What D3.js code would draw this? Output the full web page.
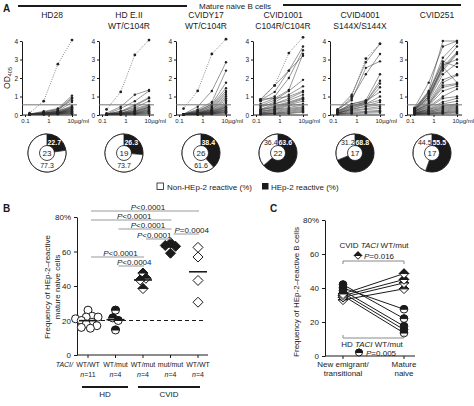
<!DOCTYPE html>
<html>
<head>
<meta charset="utf-8">
<script src="https://cdn.jsdelivr.net/npm/d3@7"></script>
<style>
  body { margin: 0; background: #fff; }
  svg { font-family: "Liberation Sans", Arial, sans-serif; }
</style>
</head>
<body>
<svg id="chart" width="474" height="406"></svg>
<script>
// ---------- data: panel A ----------
const concentrations = [0.156, 0.625, 2.5, 10];
const donorNames = ["HD28", "HD E.II", "CVIDY17", "CVID1001", "CVID4001", "CVID251"];
const donorGenotypes = ["", "WT/C104R", "WT/C104R", "C104R/C104R", "S144X/S144X", ""];
const controlCurves = [
  [0.1, 0.75, 2.75, 4.05],
  [0.3, 1.25, 3.25, 4.05],
  [0.35, 1.3, 3.3, 4.1],
  [0.8, 1.6, 3.35, 4.2],
  [0.2, 1.0, 3.05, 3.85],
  null
];
const curvesHD28 = [
  [0.05,0.2,0.35,1.05],[0.05,0.15,0.3,0.95],[0.05,0.1,0.25,0.9],[0.05,0.15,0.3,0.8],
  [0.05,0.1,0.2,0.7],[0.05,0.1,0.2,0.5],[0.05,0.1,0.2,0.45],[0.05,0.1,0.15,0.42],
  [0.05,0.08,0.15,0.4],[0.05,0.08,0.12,0.38],[0.05,0.08,0.12,0.35],[0.05,0.08,0.1,0.32],
  [0.05,0.07,0.1,0.3],[0.04,0.06,0.1,0.28],[0.04,0.06,0.1,0.25],[0.04,0.06,0.09,0.22],
  [0.04,0.05,0.08,0.2],[0.04,0.05,0.08,0.18],[0.04,0.05,0.07,0.15],[0.04,0.05,0.07,0.12],
  [0.04,0.05,0.06,0.1],[0.03,0.04,0.05,0.08],[0.03,0.04,0.05,0.06]
];
const curvesHDEII = [
  [0.1,0.45,1.1,1.35],[0.05,0.35,0.75,1.3],[0.05,0.2,0.55,0.95],[0.05,0.15,0.5,0.9],
  [0.05,0.2,0.4,0.75],[0.05,0.1,0.35,0.55],[0.05,0.1,0.3,0.5],[0.05,0.1,0.25,0.45],
  [0.04,0.08,0.2,0.42],[0.04,0.08,0.2,0.4],[0.04,0.07,0.18,0.35],[0.04,0.07,0.15,0.3],
  [0.04,0.06,0.12,0.28],[0.03,0.06,0.1,0.25],[0.03,0.05,0.1,0.2],[0.03,0.05,0.08,0.18],
  [0.03,0.04,0.06,0.15],[0.03,0.04,0.05,0.1],[0.02,0.03,0.05,0.08]
];
const curvesCVIDY17 = [
  [0.05,0.45,1.3,2.85],[0.05,0.3,0.7,2.4],[0.05,0.2,0.6,1.75],[0.05,0.25,0.55,1.45],
  [0.05,0.15,0.5,1.3],[0.05,0.2,0.45,1.2],[0.05,0.1,0.4,1.1],[0.05,0.15,0.35,1.0],
  [0.05,0.1,0.3,0.9],[0.05,0.1,0.3,0.8],[0.05,0.1,0.25,0.7],[0.05,0.1,0.25,0.6],
  [0.04,0.08,0.2,0.55],[0.04,0.08,0.2,0.5],[0.04,0.08,0.18,0.45],[0.04,0.07,0.15,0.42],
  [0.04,0.07,0.15,0.4],[0.04,0.06,0.12,0.35],[0.04,0.06,0.12,0.3],[0.03,0.05,0.1,0.28],
  [0.03,0.05,0.1,0.25],[0.03,0.05,0.08,0.2],[0.03,0.04,0.08,0.18],[0.03,0.04,0.06,0.15],
  [0.03,0.04,0.06,0.12],[0.02,0.03,0.05,0.08]
];
const curvesCVID1001 = [
  [0.8,1.25,2.4,3.7],[0.75,1.0,2.0,3.5],[0.85,1.6,2.4,3.2],[0.6,0.9,1.35,3.3],
  [0.5,0.8,1.3,1.9],[0.4,0.7,1.1,1.55],[0.85,0.9,1.0,1.3],[0.3,0.6,0.9,1.25],
  [0.5,0.6,0.8,1.1],[0.3,0.5,0.7,0.95],[0.25,0.45,0.65,0.9],[0.3,0.4,0.6,0.85],
  [0.2,0.35,0.55,0.75],[0.2,0.3,0.5,0.6],[0.15,0.3,0.4,0.55],[0.1,0.25,0.35,0.45],
  [0.1,0.2,0.3,0.4],[0.1,0.15,0.25,0.35],[0.05,0.1,0.2,0.3],[0.05,0.1,0.15,0.25],
  [0.05,0.08,0.1,0.2],[0.04,0.06,0.08,0.15]
];
const curvesCVID4001 = [
  [0.3,1.1,2.85,3.85],[0.25,0.9,2.2,3.3],[0.3,0.8,2.55,2.9],[0.2,0.6,0.8,2.2],
  [0.2,0.5,0.7,1.85],[0.15,0.5,0.7,1.7],[0.15,0.45,0.65,1.5],[0.2,0.6,0.75,1.25],
  [0.1,0.4,0.6,1.0],[0.1,0.35,0.6,0.8],[0.1,0.3,0.5,0.7],[0.1,0.3,0.45,0.55],
  [0.08,0.25,0.35,0.45],[0.05,0.2,0.3,0.35],[0.05,0.15,0.2,0.25],[0.05,0.1,0.15,0.2],
  [0.05,0.08,0.1,0.12]
];
const curvesCVID251 = [
  [0.4,1.75,3.7,4.0],[0.35,1.3,4.0,4.0],[0.3,1.2,3.1,3.9],[0.35,1.25,2.8,3.7],
  [0.3,1.1,2.6,3.4],[0.3,1.0,2.5,3.35],[0.25,0.9,2.4,3.3],[0.25,1.0,2.7,3.0],
  [0.2,0.8,2.2,2.8],[0.3,1.15,2.9,2.6],[0.2,0.7,1.9,2.2],[0.2,0.6,1.75,2.15],
  [0.25,0.9,2.6,1.75],[0.2,0.6,1.6,1.7],[0.2,0.55,1.5,1.65],[0.15,0.5,1.3,1.55],
  [0.15,0.45,1.0,1.4],[0.15,0.4,0.9,1.0],[0.1,0.35,0.7,0.9],[0.1,0.3,0.6,0.75],
  [0.1,0.3,0.5,0.6],[0.1,0.25,0.45,0.55],[0.1,0.2,0.4,0.5],[0.08,0.2,0.35,0.45],
  [0.08,0.15,0.3,0.4],[0.05,0.15,0.25,0.35],[0.05,0.1,0.2,0.3],[0.05,0.1,0.15,0.25],
  [0.05,0.08,0.12,0.2],[0.04,0.06,0.1,0.15],[0.04,0.05,0.08,0.1]
];
const donorCurves = [curvesHD28, curvesHDEII, curvesCVIDY17, curvesCVID1001, curvesCVID4001, curvesCVID251];
const cutoffOD = 0.55;
const hep2Reactive = [22.7, 26.3, 38.4, 63.6, 68.8, 55.5];
const nonReactive = [77.3, 73.7, 61.6, 36.4, 31.2, 44.5];
const clonesTested = [23, 19, 26, 22, 17, 17];

// ---------- data: panel B ----------
const groupGenotypes = ["WT/WT", "WT/mut", "WT/mut", "mut/mut", "WT/WT"];
const groupN = [11, 4, 4, 4, 4];
const groupMarkers = ["openCircle", "halfCircle", "halfDiamond", "fullDiamond", "openDiamond"];
const hdWTWT = [26, 22.5, 22, 22, 21, 20, 19, 18, 17, 16, 15.5];
const hdWTmut = [26, 21.5, 20, 14.5];
const cvidWTmut = [47.5, 44.5, 43.5, 38.5];
const cvidMutMut = [65, 63.5, 63, 59];
const cvidWTWT = [62.4, 56.8, 43.2, 30.6];
const groupValues = [hdWTWT, hdWTmut, cvidWTmut, cvidMutMut, cvidWTWT];
const healthyLevel = 20;
const sigPairs = [[0, 4], [0, 3], [1, 3], [2, 3], [3, 4], [0, 2], [1, 2]];
const sigLabels = ["<0.0001", "<0.0001", "<0.0001", "<0.0001", "=0.0004", "<0.0001", "<0.0004"];

// ---------- data: panel C ----------
const stages = ["New emigrant/\ntransitional", "Mature\nnaive"];
const hdTransitional = [42, 40, 38.5, 37, 35.5];
const hdMature = [22, 27.5, 17.5, 15.5, 13.5];
const cvidTransitional = [33, 34.5, 35.5, 36.5];
const cvidMature = [39.5, 43, 45, 48.5];

const svg = d3.select("#chart");
const ink = "#1a1a1a";
const fs = 8;

const styleAxis = (g, size) => {
  g.attr("font-family", null).attr("font-size", size);
  g.selectAll("path.domain, line").attr("stroke", ink);
  g.selectAll("text").attr("fill", ink);
};

const markerPath = (type, r) => {
  if (type.endsWith("Circle")) {
    return { full: `M${-r},0A${r},${r} 0 1 1 ${r},0A${r},${r} 0 1 1 ${-r},0Z`,
             top: `M${-r},0A${r},${r} 0 0 1 ${r},0Z` };
  }
  const d = r * 1.25;
  return { full: `M0,${-d}L${d},0L0,${d}L${-d},0Z`, top: `M${-d},0L0,${-d}L${d},0Z` };
};

const drawMarker = (g, type, x, y, r) => {
  const p = markerPath(type, r);
  const m = g.append("g").attr("transform", `translate(${x},${y})`);
  m.append("path").attr("d", p.full)
    .attr("fill", type.startsWith("full") ? ink : "#fff")
    .attr("stroke", ink).attr("stroke-width", 1);
  if (type.startsWith("half")) {
    m.append("path").attr("d", p.top).attr("fill", ink).attr("stroke", ink).attr("stroke-width", 1);
  }
};

// ---------- panel A ----------
svg.append("text").attr("x", 3).attr("y", 12).attr("font-size", 10).attr("font-weight", "bold")
  .attr("fill", ink).text("A");
svg.append("line").attr("x1", 18).attr("x2", 187).attr("y1", 6).attr("y2", 6)
  .attr("stroke", ink).attr("stroke-width", 2);
svg.append("line").attr("x1", 283).attr("x2", 461).attr("y1", 5).attr("y2", 5)
  .attr("stroke", ink).attr("stroke-width", 2);
svg.append("text").attr("x", 235).attr("y", 9).attr("text-anchor", "middle").attr("font-size", fs)
  .attr("fill", ink).text("Mature naive B cells");

const odLabel = svg.append("text").attr("transform", "translate(10,78) rotate(-90)")
  .attr("text-anchor", "middle").attr("font-size", 8.5).attr("fill", ink);
odLabel.append("tspan").text("OD");
odLabel.append("tspan").attr("font-size", 5.5).attr("dy", 2).text("405");

const yA = d3.scaleLinear().domain([0, 4]).range([115, 41]);
const pie = d3.pie().sort(null).value((d) => d);

donorNames.forEach((name, i) => {
  const x0 = 22 + i * 77;
  const xA = d3.scaleLog().domain([0.1, 10]).range([x0 + 3, x0 + 50]);
  const g = svg.append("g");

  g.append("text").attr("x", x0 + 30).attr("y", 18).attr("text-anchor", "middle")
    .attr("font-size", 8.5).attr("fill", ink).text(name);
  g.append("text").attr("x", x0 + 30).attr("y", 29).attr("text-anchor", "middle")
    .attr("font-size", 8.5).attr("fill", ink).text(donorGenotypes[i]);

  const yAxis = g.append("g").attr("transform", `translate(${x0},0)`)
    .call(d3.axisLeft(yA).ticks(4).tickSize(2).tickSizeOuter(0).tickPadding(2));
  styleAxis(yAxis, 6.5);

  const xAxis = g.append("g").attr("transform", `translate(0,${yA(0)})`)
    .call(d3.axisBottom(xA).tickValues([0.1, 1, 10]).tickSize(2).tickPadding(2)
      .tickFormat((d) => (d === 10 ? "10µg/ml" : d === 1 ? "1" : "0.1")));
  xAxis.select(".domain").remove();
  styleAxis(xAxis, 6);
  xAxis.selectAll(".tick text").filter((d) => d === 10).attr("text-anchor", "start").attr("dx", -5);
  g.append("line").attr("x1", x0).attr("x2", x0 + 55).attr("y1", yA(0)).attr("y2", yA(0))
    .attr("stroke", ink);

  const line = d3.line().x((d, k) => xA(concentrations[k])).y((d) => yA(d));

  g.selectAll(".curve").data(donorCurves[i]).enter().append("path")
    .attr("d", line).attr("fill", "none").attr("stroke", "#333").attr("stroke-width", 0.5);
  donorCurves[i].forEach((c) => {
    g.selectAll(null).data(c).enter().append("circle")
      .attr("cx", (d, k) => xA(concentrations[k])).attr("cy", (d) => yA(d))
      .attr("r", 1.2).attr("fill", "#222");
  });

  if (controlCurves[i]) {
    g.append("path").attr("d", line(controlCurves[i])).attr("fill", "none")
      .attr("stroke", "#555").attr("stroke-width", 0.7).attr("stroke-dasharray", "1,1.3");
    g.selectAll(null).data(controlCurves[i]).enter().append("circle")
      .attr("cx", (d, k) => xA(concentrations[k])).attr("cy", (d) => yA(d))
      .attr("r", 1.4).attr("fill", "#222");
  }

  g.append("line").attr("x1", x0).attr("x2", x0 + 55).attr("y1", yA(cutoffOD)).attr("y2", yA(cutoffOD))
    .attr("stroke", "#777").attr("stroke-width", 1);

  // donut
  const cx = x0 + 25, cy = 153, rOut = 19, rIn = 7.5;
  const dg = svg.append("g").attr("transform", `translate(${cx},${cy})`);
  dg.append("circle").attr("r", rOut).attr("fill", "#fff").attr("stroke", ink).attr("stroke-width", 1);
  const arcs = pie([hep2Reactive[i], nonReactive[i]]);
  dg.append("path").attr("d", d3.arc().innerRadius(0).outerRadius(rOut)(arcs[0])).attr("fill", ink);
  dg.append("path").attr("d", d3.arc().innerRadius(0).outerRadius(rOut)(arcs[1]))
    .attr("fill", "#fff").attr("stroke", ink).attr("stroke-width", 0.8);
  dg.append("circle").attr("r", rIn).attr("fill", "#fff").attr("stroke", ink).attr("stroke-width", 0.8);
  dg.append("text").attr("y", 2.8).attr("text-anchor", "middle").attr("font-size", 8)
    .attr("fill", ink).text(clonesTested[i]);

  const blackAng = Math.min((arcs[0].startAngle + arcs[0].endAngle) / 2, 0.62);
  const whiteAng = nonReactive[i] > 50 ? Math.PI : -0.62;
  const rl = 12.5;
  dg.append("text").attr("x", rl * Math.sin(blackAng)).attr("y", -rl * Math.cos(blackAng) + 2.4)
    .attr("text-anchor", "middle").attr("font-size", 7).attr("font-weight", "bold")
    .attr("fill", "#fff").text(hep2Reactive[i].toFixed(1));
  dg.append("text").attr("x", rl * Math.sin(whiteAng)).attr("y", -rl * Math.cos(whiteAng) + 2.4)
    .attr("text-anchor", "middle").attr("font-size", 7).attr("fill", ink)
    .text(nonReactive[i].toFixed(1));
});

// legend
svg.append("rect").attr("x", 157).attr("y", 183).attr("width", 6.5).attr("height", 6.5)
  .attr("fill", "#fff").attr("stroke", ink).attr("stroke-width", 0.8);
svg.append("text").attr("x", 167).attr("y", 189.5).attr("font-size", fs).attr("fill", ink)
  .text("Non-HEp-2 reactive (%)");
svg.append("rect").attr("x", 262).attr("y", 183).attr("width", 6.5).attr("height", 6.5).attr("fill", ink);
svg.append("text").attr("x", 271).attr("y", 189.5).attr("font-size", fs).attr("fill", ink)
  .text("HEp-2 reactive (%)");

// ---------- panel B ----------
svg.append("text").attr("x", 3).attr("y", 212).attr("font-size", 10).attr("font-weight", "bold")
  .attr("fill", ink).text("B");

const yB = d3.scaleLinear().domain([0, 80]).range([355, 217]);
const xB = d3.scalePoint().domain(d3.range(groupGenotypes.length)).range([88, 198]);
const gB = svg.append("g");

const yAxisB = gB.append("g").attr("transform", "translate(77,0)")
  .call(d3.axisLeft(yB).tickValues([0, 20, 40, 60, 80]).tickSize(3).tickSizeOuter(0)
    .tickFormat((d) => (d === 80 ? "80%" : d)));
styleAxis(yAxisB, fs);
gB.append("line").attr("x1", 77).attr("x2", 208).attr("y1", yB(0)).attr("y2", yB(0)).attr("stroke", ink);
groupGenotypes.forEach((gt, i) => {
  gB.append("line").attr("x1", xB(i)).attr("x2", xB(i)).attr("y1", yB(0)).attr("y2", yB(0) + 3)
    .attr("stroke", ink);
  gB.append("text").attr("x", xB(i)).attr("y", 367).attr("text-anchor", "middle")
    .attr("font-size", 7).attr("fill", ink).text(gt);
  const nt = gB.append("text").attr("x", xB(i)).attr("y", 376.5).attr("text-anchor", "middle")
    .attr("font-size", 7).attr("fill", ink);
  nt.append("tspan").attr("font-style", "italic").text("n");
  nt.append("tspan").text("=" + groupN[i]);
});
gB.append("text").attr("x", 73).attr("y", 367).attr("text-anchor", "end").attr("font-size", 7)
  .attr("font-style", "italic").attr("fill", ink).text("TACI/");

gB.append("line").attr("x1", 82).attr("x2", 128).attr("y1", 387).attr("y2", 387)
  .attr("stroke", ink).attr("stroke-width", 2);
gB.append("text").attr("x", 105).attr("y", 397).attr("text-anchor", "middle").attr("font-size", fs)
  .attr("fill", ink).text("HD");
gB.append("line").attr("x1", 138).attr("x2", 200).attr("y1", 387).attr("y2", 387)
  .attr("stroke", ink).attr("stroke-width", 2);
gB.append("text").attr("x", 169).attr("y", 397).attr("text-anchor", "middle").attr("font-size", fs)
  .attr("fill", ink).text("CVID");

const yLabB = gB.append("text").attr("transform", "translate(50,287) rotate(-90)")
  .attr("text-anchor", "middle").attr("font-size", fs).attr("fill", ink);
yLabB.append("tspan").attr("x", 0).text("Frequency of HEp-2–reactive");
yLabB.append("tspan").attr("x", 0).attr("dy", 9.5).text("mature naive cells");

gB.append("line").attr("x1", 80).attr("x2", 205).attr("y1", yB(healthyLevel)).attr("y2", yB(healthyLevel))
  .attr("stroke", ink).attr("stroke-width", 1).attr("stroke-dasharray", "4,3");

// beeswarm positions
const nodes = [];
groupValues.forEach((vals, gi) => vals.forEach((v) => nodes.push({ g: gi, v, x: xB(gi), fy: yB(v) })));
const sim = d3.forceSimulation(nodes)
  .force("x", d3.forceX((d) => xB(d.g)).strength(0.3))
  .force("collide", d3.forceCollide(3))
  .stop();
for (let i = 0; i < 300; i++) sim.tick();

nodes.forEach((d) => drawMarker(gB, groupMarkers[d.g], d.x, d.fy, 4));

groupValues.forEach((vals, gi) => {
  const m = d3.mean(vals);
  gB.append("line").attr("x1", xB(gi) - 9).attr("x2", xB(gi) + 9).attr("y1", yB(m)).attr("y2", yB(m))
    .attr("stroke", ink).attr("stroke-width", 1.6);
});

const bracketY = [211, 220, 229, 239, 234, 257, 266];
const bracketAnchor = ["middle", "middle", "middle", "end", "start", "middle", "middle"];
sigPairs.forEach(([a, b], k) => {
  const x1 = xB(a) + 3, x2 = xB(b) + 1;
  gB.append("line").attr("x1", x1).attr("x2", x2).attr("y1", bracketY[k]).attr("y2", bracketY[k])
    .attr("stroke", "#999").attr("stroke-width", 1);
  const anchor = bracketAnchor[k];
  const tx = anchor === "start" ? x1 + 1 : anchor === "end" ? x2 : (x1 + x2) / 2 + 3;
  const t = gB.append("text").attr("x", tx).attr("y", bracketY[k] - 1.5)
    .attr("text-anchor", anchor).attr("font-size", fs).attr("fill", ink);
  t.append("tspan").attr("font-style", "italic").text("P");
  t.append("tspan").text(sigLabels[k]);
});

// ---------- panel C ----------
svg.append("text").attr("x", 270).attr("y", 212).attr("font-size", 10).attr("font-weight", "bold")
  .attr("fill", ink).text("C");

const yC = d3.scaleLinear().domain([0, 80]).range([356, 220]);
const xC = d3.scalePoint().domain(d3.range(stages.length)).range([343, 404]);
const gC = svg.append("g");

const yAxisC = gC.append("g").attr("transform", "translate(325,0)")
  .call(d3.axisLeft(yC).tickValues([0, 20, 40, 60, 80]).tickSize(3).tickSizeOuter(0)
    .tickFormat((d) => (d === 80 ? "80%" : d)));
styleAxis(yAxisC, fs);
gC.append("line").attr("x1", 325).attr("x2", 415).attr("y1", yC(0)).attr("y2", yC(0)).attr("stroke", ink);
stages.forEach((s, i) => {
  gC.append("line").attr("x1", xC(i)).attr("x2", xC(i)).attr("y1", yC(0)).attr("y2", yC(0) + 3)
    .attr("stroke", ink);
  s.split("\n").forEach((part, j) => {
    gC.append("text").attr("x", xC(i)).attr("y", 367 + j * 9).attr("text-anchor", "middle")
      .attr("font-size", fs).attr("fill", ink).text(part);
  });
});

gC.append("text").attr("transform", "translate(299,292) rotate(-90)").attr("text-anchor", "middle")
  .attr("font-size", fs).attr("fill", ink).text("Frequency of HEp-2–reactive B cells");

const pairLine = (from, to, type) => {
  from.forEach((v, k) => {
    gC.append("line").attr("x1", xC(0)).attr("x2", xC(1)).attr("y1", yC(v)).attr("y2", yC(to[k]))
      .attr("stroke", ink).attr("stroke-width", 1);
  });
  from.forEach((v, k) => {
    drawMarker(gC, type, xC(0), yC(v), 3.8);
    drawMarker(gC, type, xC(1), yC(to[k]), 3.8);
  });
};
pairLine(hdTransitional, hdMature, "halfCircle");
pairLine(cvidTransitional, cvidMature, "halfDiamond");

// brackets C
const topY = 261, botY = 338;
gC.append("path").attr("d", `M${xC(0)},${topY + 3}V${topY}H${xC(1)}V${topY + 3}`)
  .attr("fill", "none").attr("stroke", "#888");
gC.append("path").attr("d", `M${xC(0)},${botY - 3}V${botY}H${xC(1)}V${botY - 3}`)
  .attr("fill", "none").attr("stroke", "#888");

const ct = gC.append("text").attr("x", 374).attr("y", 248).attr("text-anchor", "middle")
  .attr("font-size", fs).attr("fill", ink);
ct.append("tspan").text("CVID ");
ct.append("tspan").attr("font-style", "italic").text("TACI");
ct.append("tspan").text(" WT/mut");
drawMarker(gC, "halfDiamond", 358, 255.5, 3);
const cp = gC.append("text").attr("x", 364).attr("y", 258.5).attr("font-size", fs).attr("fill", ink);
cp.append("tspan").attr("font-style", "italic").text("P");
cp.append("tspan").text("=0.016");

const ht = gC.append("text").attr("x", 372).attr("y", 347).attr("text-anchor", "middle")
  .attr("font-size", fs).attr("fill", ink);
ht.append("tspan").text("HD ");
ht.append("tspan").attr("font-style", "italic").text("TACI");
ht.append("tspan").text(" WT/mut");
drawMarker(gC, "halfCircle", 359, 352.5, 3.5);
const hp = gC.append("text").attr("x", 366).attr("y", 356).attr("font-size", fs).attr("fill", ink);
hp.append("tspan").attr("font-style", "italic").text("P");
hp.append("tspan").text("=0.005");
</script>
</body>
</html>
